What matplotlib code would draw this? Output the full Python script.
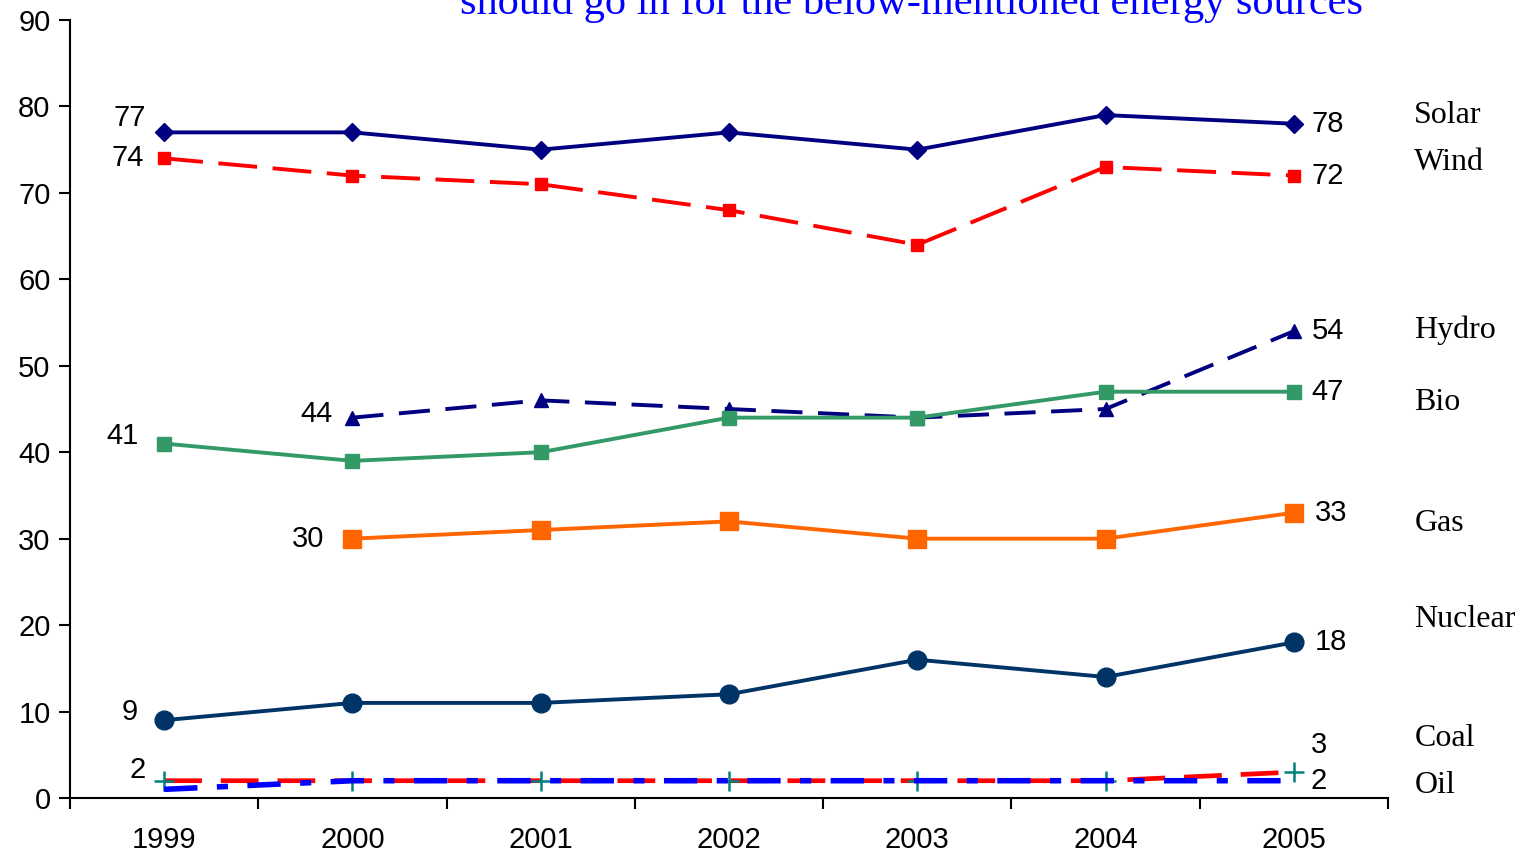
import matplotlib.pyplot as plt

years = [1999, 2000, 2001, 2002, 2003, 2004, 2005]
year_labels = ["1999", "2000", "2001", "2002", "2003", "2004", "2005"]

solar = [77, 77, 75, 77, 75, 79, 78]
wind = [74, 72, 71, 68, 64, 73, 72]
hydro = [None, 44, 46, 45, 44, 45, 54]
bio = [41, 39, 40, 44, 44, 47, 47]
gas = [None, 30, 31, 32, 30, 30, 33]
nuclear = [9, 11, 11, 12, 16, 14, 18]
coal = [2, 2, 2, 2, 2, 2, 3]
oil = [1, 2, 2, 2, 2, 2, 2]

names = ["Solar", "Wind", "Hydro", "Bio", "Gas", "Nuclear", "Coal", "Oil"]

fig = plt.figure(figsize=(15.22, 8.56), dpi=100)
ax = fig.add_axes([70 / 1522, 58 / 856, 1318 / 1522, 778 / 856])

def nan(v):
    return [float("nan") if x is None else x for x in v]

ax.plot(years, solar, color="#000080", lw=2.8, marker="D", ms=9.5)
ax.plot(years, wind, color="#FF0000", lw=2.8, ls=(0, (10, 4)), marker="s", ms=9)
ax.plot(years, nan(hydro), color="#000080", lw=2.8, ls=(0, (8, 4)), marker="^", ms=10.5)
ax.plot(years, bio, color="#339966", lw=2.8, marker="s", ms=10.5)
ax.plot(years, nan(gas), color="#FF6600", lw=2.8, marker="s", ms=13.5)
ax.plot(years, nuclear, color="#003366", lw=2.8, marker="o", ms=13.5)
ax.plot(years, coal, color="#FF0000", lw=3.4, ls=(0, (8, 4)), marker="+", ms=14,
        mec="#008080", mew=1.8)
ax.plot(years, oil, color="#0000FF", lw=4.0, ls=(0, (6, 3.5, 2, 3.5)))

# value labels: (series, index, dx, dy) in pixels
labels = [
    (solar, 0, -34, 14), (solar, 6, 34, 0),
    (wind, 0, -36, 0), (wind, 6, 34, 0),
    (hydro, 1, -36, 4), (hydro, 6, 34, 0),
    (bio, 0, -42, 8), (bio, 6, 34, 0),
    (gas, 1, -44, 0), (gas, 6, 37, 0),
    (nuclear, 0, -34, 8), (nuclear, 6, 37, 0),
    (coal, 0, -27, 11), (coal, 6, 25, 27),
    (oil, 6, 25, 0),
]
for s, i, dx, dy in labels:
    ax.annotate(str(s[i]), (years[i], s[i]), xytext=(dx, dy),
                textcoords="offset pixels", ha="center", va="center",
                fontsize=21, family="Liberation Sans")

name_y = [79.0, 73.5, 54.1, 45.7, 31.8, 20.7, 6.9, 1.4]
for n, y in zip(names, name_y):
    ax.text(2005.64, y, n, ha="left", va="center", fontsize=23,
            family="Liberation Serif", clip_on=False)

fig.text(0.599, 1 - 14 / 856, "should go in for the below-mentioned energy sources",
         ha="center", va="baseline", fontsize=30.5, color="#0000FF",
         family="Liberation Serif")

ax.set_xlim(1998.5, 2005.5)
ax.set_ylim(0, 90)
ax.set_yticks(range(0, 91, 10))
ax.set_xticks([y - 0.5 for y in years] + [2005.5])
ax.set_xticklabels([])
ax.set_xticks(years, minor=True)
ax.set_xticklabels(year_labels, minor=True)
ax.tick_params(axis="x", which="minor", length=0, pad=20, labelsize=21)
ax.tick_params(axis="x", which="major", length=8, width=1.5, direction="out")
ax.tick_params(axis="y", length=8, width=1.5, direction="out", labelsize=21, pad=6)
for lab in ax.get_xticklabels(minor=True) + ax.get_yticklabels():
    lab.set_family("Liberation Sans")

ax.spines["top"].set_visible(False)
ax.spines["right"].set_visible(False)
ax.spines["left"].set_linewidth(1.5)
ax.spines["bottom"].set_linewidth(1.5)

plt.savefig("out.png", dpi=100)
